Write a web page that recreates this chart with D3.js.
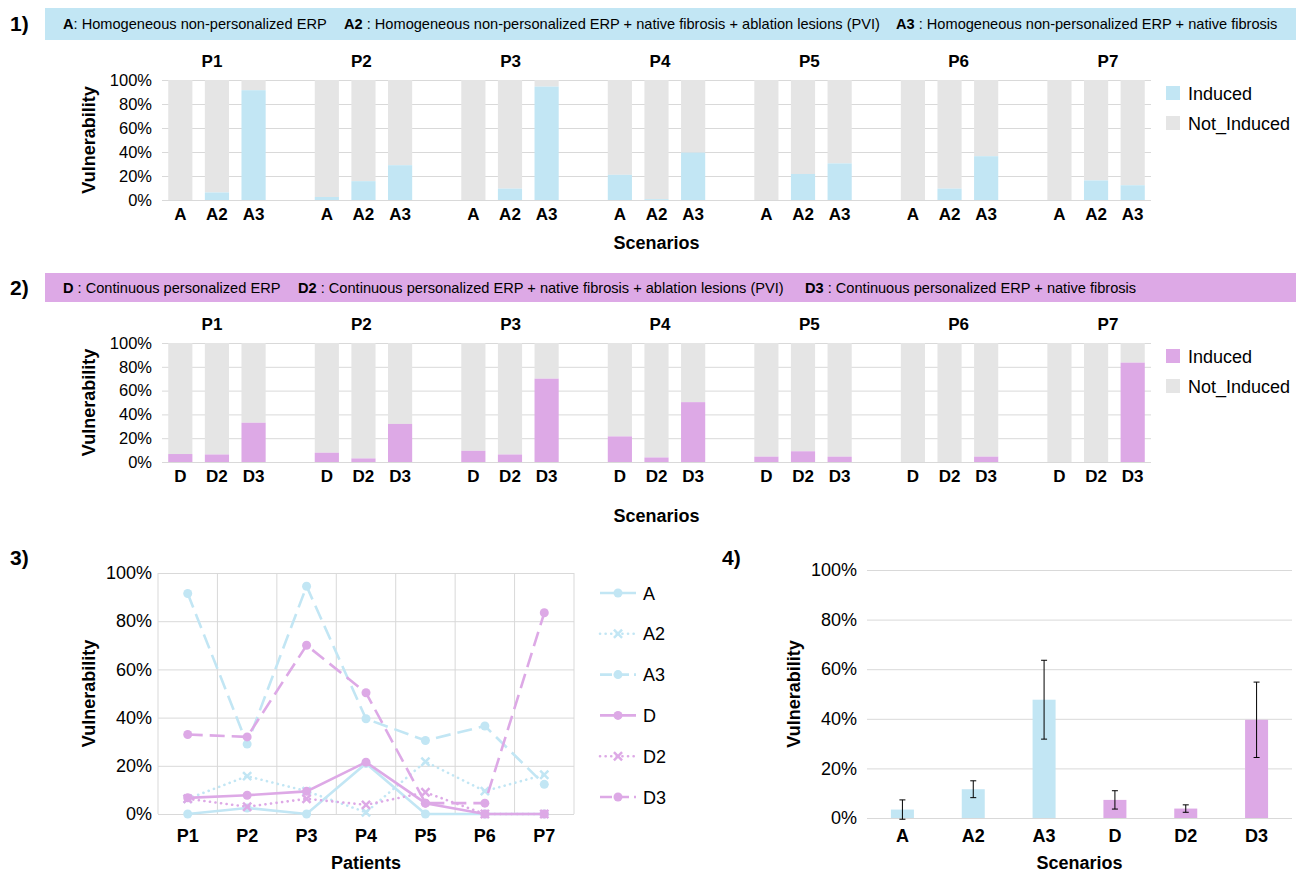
<!DOCTYPE html>
<html><head><meta charset="utf-8">
<script src="https://cdn.jsdelivr.net/npm/d3@7"></script>
<style>
body{margin:0;background:#fff}
text{font-family:"Liberation Sans",Arial,sans-serif;fill:#000}
</style></head><body>
<svg id="fig" width="1304" height="874"></svg>
<script>
// ---- data -------------------------------------------------------------
const patients = ["P1","P2","P3","P4","P5","P6","P7"];
const homScenarios = ["A","A2","A3"];
const perScenarios = ["D","D2","D3"];
// induced vulnerability (%) per patient for each scenario
const vulnA  = [0, 2.5, 0, 21, 0, 0, 0];
const vulnA2 = [6.3, 15.7, 9.5, 0.7, 21.7, 9.5, 16.3];
const vulnA3 = [91.5, 29, 94.5, 39.5, 30.5, 36.5, 12.3];
const vulnD  = [6.7, 7.8, 9.4, 21.5, 4.5, 0, 0];
const vulnD2 = [6.3, 3, 6.3, 3.8, 9, 0, 0];
const vulnD3 = [33, 32, 70, 50.3, 4.5, 4.5, 83.5];
// mean vulnerability over patients and its error
const summaryScenarios = ["A","A2","A3","D","D2","D3"];
const summaryMean = [3.4, 11.6, 47.7, 7.3, 3.8, 39.6];
const summaryErr  = [3.9, 3.4, 15.9, 3.7, 1.5, 15.2];
const percentTicks = [0, 20, 40, 60, 80, 100];
const legendStates = ["Induced", "Not_Induced"];

// ---- styling ----------------------------------------------------------
const BLUE = "#C2E6F4", PINK = "#DDA9E6", GREY = "#E5E5E5", GRID = "#D9D9D9";
const svg = d3.select("#fig");
const pct = d => d + "%";

function styleAxis(sel, size) {
  sel.select(".domain").remove();
  sel.selectAll(".tick line").attr("stroke", GRID).attr("stroke-width", 1);
  sel.selectAll(".tick text").attr("font-size", size).attr("fill", "#000");
}

// ---- header bands -----------------------------------------------------
function header(y, h, fill, label, parts) {
  svg.append("text").attr("x", 10).attr("y", y + h / 2 + 7)
    .attr("font-size", 21).attr("font-weight", "bold").text(label);
  svg.append("rect").attr("x", 45).attr("y", y).attr("width", 1251).attr("height", h).attr("fill", fill);
  parts.forEach(p => {
    const t = svg.append("text").attr("x", p.x).attr("y", y + h / 2 + 5).attr("font-size", 14.6);
    t.append("tspan").attr("font-weight", "bold").text(p.key);
    t.append("tspan").text(p.desc);
  });
}
header(8, 32, BLUE, "1)", [
  {x: 63, key: "A", desc: ": Homogeneous non-personalized ERP"},
  {x: 344, key: "A2", desc: " : Homogeneous non-personalized ERP + native fibrosis + ablation lesions (PVI)"},
  {x: 896, key: "A3", desc: " : Homogeneous non-personalized ERP + native fibrosis"}
]);
header(273, 29, PINK, "2)", [
  {x: 63, key: "D", desc: " : Continuous personalized ERP"},
  {x: 298, key: "D2", desc: " : Continuous personalized ERP + native fibrosis + ablation lesions (PVI)"},
  {x: 805, key: "D3", desc: " : Continuous personalized ERP + native fibrosis"}
]);

// ---- panels 1 & 2: stacked 100% bars per patient ----------------------
function stackedPanel(o) {
  const keys = [];
  patients.forEach((p, i) => {
    o.scen.forEach(s => keys.push(p + "|" + s));
    if (i < patients.length - 1) keys.push(p + "|gap");
  });
  const x = d3.scaleBand().domain(keys).range([o.left, o.right]);
  const y = d3.scaleLinear().domain([0, 100]).range([o.bottom, o.top]);
  const g = svg.append("g");

  g.append("g").attr("transform", `translate(${o.left},0)`)
    .call(d3.axisLeft(y).tickValues(percentTicks).tickFormat(pct)
      .tickSize(-(o.right - o.left)).tickPadding(10))
    .call(a => styleAxis(a, 16.5));

  const rows = [];
  patients.forEach((p, i) => o.scen.forEach((s, j) => rows.push({p, s, v: o.series[j][i]})));
  const bw = x.bandwidth() * 0.66;
  const bx = d => x(d.p + "|" + d.s) + (x.bandwidth() - bw) / 2;

  g.selectAll(".not").data(rows).join("rect")
    .attr("x", bx).attr("width", bw)
    .attr("y", y(100)).attr("height", d => y(d.v) - y(100)).attr("fill", GREY);
  g.selectAll(".ind").data(rows).join("rect")
    .attr("x", bx).attr("width", bw)
    .attr("y", d => y(d.v)).attr("height", d => y(0) - y(d.v)).attr("fill", o.color);

  g.selectAll(".cat").data(rows).join("text")
    .attr("x", d => x(d.p + "|" + d.s) + x.bandwidth() / 2).attr("y", o.bottom + 20)
    .attr("text-anchor", "middle").attr("font-size", 17).attr("font-weight", "bold")
    .text(d => d.s);

  const px = d3.scalePoint().domain(patients).range(o.titleRange);
  g.selectAll(".pt").data(patients).join("text")
    .attr("x", d => px(d)).attr("y", o.top - 13)
    .attr("text-anchor", "middle").attr("font-size", 17).attr("font-weight", "bold").text(d => d);

  g.append("text").attr("transform", `translate(95,${(o.top + o.bottom) / 2}) rotate(-90)`)
    .attr("text-anchor", "middle").attr("font-size", 18).attr("font-weight", "bold").text("Vulnerability");
  g.append("text").attr("x", (o.left + o.right) / 2).attr("y", o.scenY)
    .attr("text-anchor", "middle").attr("font-size", 18).attr("font-weight", "bold").text("Scenarios");

  const lg = g.append("g").selectAll("g").data(legendStates).join("g")
    .attr("transform", (d, i) => `translate(1166,${o.top + 6 + i * 30})`);
  lg.append("rect").attr("width", 14).attr("height", 14).attr("fill", (d, i) => i ? GREY : o.color);
  lg.append("text").attr("x", 22).attr("y", 14).attr("font-size", 18).text(d => d);
}

stackedPanel({top: 80, bottom: 200, left: 162, right: 1151, scen: homScenarios,
  series: [vulnA, vulnA2, vulnA3], color: BLUE, titleRange: [212, 1108], scenY: 249});
stackedPanel({top: 343, bottom: 462, left: 162, right: 1151, scen: perScenarios,
  series: [vulnD, vulnD2, vulnD3], color: PINK, titleRange: [212, 1108], scenY: 522});

// ---- panel 3: vulnerability per patient, one line per scenario --------
(function () {
  const left = 158, right = 574, top = 573, bottom = 814;
  const x = d3.scaleBand().domain(patients).range([left, right]);
  const y = d3.scaleLinear().domain([0, 100]).range([bottom, top]);
  const g = svg.append("g");
  svg.append("text").attr("x", 10).attr("y", 565).attr("font-size", 21).attr("font-weight", "bold").text("3)");

  g.append("g").attr("transform", `translate(${left},0)`)
    .call(d3.axisLeft(y).tickValues(percentTicks).tickFormat(pct).tickSize(-(right - left)).tickPadding(6))
    .call(a => styleAxis(a, 18));
  // vertical grid at category boundaries
  const bounds = patients.map(p => x(p)).concat([right]);
  g.selectAll(".vg").data(bounds).join("line")
    .attr("x1", d => d).attr("x2", d => d).attr("y1", top).attr("y2", bottom)
    .attr("stroke", GRID);
  g.selectAll(".xl").data(patients).join("text")
    .attr("x", d => x(d) + x.bandwidth() / 2).attr("y", bottom + 28)
    .attr("text-anchor", "middle").attr("font-size", 18).attr("font-weight", "bold").text(d => d);
  g.append("text").attr("x", (left + right) / 2).attr("y", 869)
    .attr("text-anchor", "middle").attr("font-size", 18).attr("font-weight", "bold").text("Patients");
  g.append("text").attr("transform", `translate(95,${(top + bottom) / 2}) rotate(-90)`)
    .attr("text-anchor", "middle").attr("font-size", 18).attr("font-weight", "bold").text("Vulnerability");

  const series = [
    {name: "A",  v: vulnA,  c: BLUE, dash: null,       mark: "circle"},
    {name: "A2", v: vulnA2, c: BLUE, dash: "0.1,5.5",  mark: "x"},
    {name: "A3", v: vulnA3, c: BLUE, dash: "15,7",     mark: "circle"},
    {name: "D",  v: vulnD,  c: PINK, dash: null,       mark: "circle"},
    {name: "D2", v: vulnD2, c: PINK, dash: "0.1,5.5",  mark: "x"},
    {name: "D3", v: vulnD3, c: PINK, dash: "15,7",     mark: "circle"}
  ];
  const cx = i => x(patients[i]) + x.bandwidth() / 2;
  const line = d3.line().x((d, i) => cx(i)).y(d => y(d));
  const xSym = d3.symbol().type(d3.symbolTimes).size(45);
  const isDot = s => s.dash && s.dash.startsWith("0.1");

  function marker(sel, s, px, py) {
    if (s.mark === "circle") {
      sel.append("circle").attr("cx", px).attr("cy", py).attr("r", 4.5).attr("fill", s.c);
    } else {
      sel.append("path").attr("d", xSym()).attr("transform", `translate(${px},${py})`)
        .attr("fill", "none").attr("stroke", s.c).attr("stroke-width", 2.5);
    }
  }

  series.forEach(s => {
    const sg = g.append("g");
    sg.append("path").datum(s.v).attr("d", line).attr("fill", "none")
      .attr("stroke", s.c).attr("stroke-width", 2.6)
      .attr("stroke-linecap", isDot(s) ? "round" : "butt")
      .attr("stroke-dasharray", s.dash);
    s.v.forEach((v, i) => marker(sg, s, cx(i), y(v)));
  });

  // legend
  series.forEach((s, i) => {
    const ly = 593 + i * 40.8;
    const lg = g.append("g");
    lg.append("line").attr("x1", 600).attr("x2", 636).attr("y1", ly).attr("y2", ly)
      .attr("stroke", s.c).attr("stroke-width", 2.6)
      .attr("stroke-linecap", isDot(s) ? "round" : "butt")
      .attr("stroke-dasharray", s.dash ? (isDot(s) ? s.dash : "12,5") : null);
    marker(lg, s, 618, ly);
    lg.append("text").attr("x", 643).attr("y", ly + 6.5).attr("font-size", 18).text(s.name);
  });
})();

// ---- panel 4: mean vulnerability per scenario with error bars ---------
(function () {
  const left = 867, right = 1292, top = 570, bottom = 818;
  const x = d3.scaleBand().domain(summaryScenarios).range([left, right]);
  const y = d3.scaleLinear().domain([0, 100]).range([bottom, top]);
  const g = svg.append("g");
  svg.append("text").attr("x", 722).attr("y", 565).attr("font-size", 21).attr("font-weight", "bold").text("4)");

  g.append("g").attr("transform", `translate(${left},0)`)
    .call(d3.axisLeft(y).tickValues(percentTicks).tickFormat(pct).tickSize(-(right - left)).tickPadding(10))
    .call(a => styleAxis(a, 18));

  const rows = summaryScenarios.map((s, i) => ({s, m: summaryMean[i], e: summaryErr[i], c: i < 3 ? BLUE : PINK}));
  const bw = 23;
  const mid = d => x(d.s) + x.bandwidth() / 2;
  g.selectAll(".bar").data(rows).join("rect")
    .attr("x", d => mid(d) - bw / 2).attr("width", bw)
    .attr("y", d => y(d.m)).attr("height", d => y(0) - y(d.m)).attr("fill", d => d.c);
  const eb = g.selectAll(".err").data(rows).join("g").attr("stroke", "#000").attr("stroke-width", 1);
  eb.append("line").attr("x1", mid).attr("x2", mid).attr("y1", d => y(d.m + d.e)).attr("y2", d => y(d.m - d.e));
  eb.append("line").attr("x1", d => mid(d) - 3).attr("x2", d => mid(d) + 3).attr("y1", d => y(d.m + d.e)).attr("y2", d => y(d.m + d.e));
  eb.append("line").attr("x1", d => mid(d) - 3).attr("x2", d => mid(d) + 3).attr("y1", d => y(d.m - d.e)).attr("y2", d => y(d.m - d.e));

  g.selectAll(".xl").data(summaryScenarios).join("text")
    .attr("x", d => x(d) + x.bandwidth() / 2).attr("y", bottom + 24)
    .attr("text-anchor", "middle").attr("font-size", 18).attr("font-weight", "bold").text(d => d);
  g.append("text").attr("x", (left + right) / 2).attr("y", 869)
    .attr("text-anchor", "middle").attr("font-size", 18).attr("font-weight", "bold").text("Scenarios");
  g.append("text").attr("transform", `translate(800,${(top + bottom) / 2}) rotate(-90)`)
    .attr("text-anchor", "middle").attr("font-size", 18).attr("font-weight", "bold").text("Vulnerability");
})();
</script>
</body></html>
